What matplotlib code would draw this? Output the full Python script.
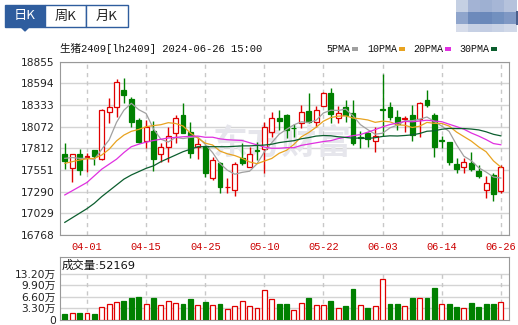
import numpy as np
import pandas as pd
import matplotlib
matplotlib.use("Agg")
import matplotlib.pyplot as plt
from matplotlib.patches import Rectangle, Polygon

plt.rcParams['font.family'] = ['DejaVu Sans', 'Noto Sans CJK SC']

# ---------------- data ----------------

dates = ["03-27", "03-28", "03-29",
         "04-01", "04-02", "04-03", "04-08", "04-09", "04-10", "04-11", "04-12",
         "04-15", "04-16", "04-17", "04-18", "04-19", "04-22", "04-23", "04-24",
         "04-25", "04-26", "04-29", "04-30",
         "05-06", "05-07", "05-08", "05-09", "05-10", "05-13", "05-14", "05-15",
         "05-16", "05-17", "05-20", "05-21", "05-22", "05-23", "05-24", "05-27",
         "05-28", "05-29", "05-30", "05-31",
         "06-03", "06-04", "06-05", "06-06", "06-07", "06-11", "06-12", "06-13",
         "06-14", "06-17", "06-18", "06-19", "06-20", "06-21", "06-24", "06-25",
         "06-26"]

open_ = [17738, 17569, 17738, 17710, 17790, 17678, 18243, 18311, 18512, 18400,
         18151, 17902, 18019, 17738, 17822, 17990, 18211, 18011, 17830, 17838,
         17457, 17630, 17341, 17309, 17690, 17590, 17790, 17798, 18011, 18171,
         18211, 18059, 18119, 18259, 18131, 18319, 18480, 18175, 18303, 18239,
         17946, 17990, 17902, 18281, 18303, 18183, 18168, 18211, 18159, 18391,
         18211, 17904, 17882, 17618, 17590, 17630, 17537, 17309, 17489, 17297]
high = [17870, 17745, 17802, 17760, 17795, 18280, 18412, 18644, 18652, 18432,
        18170, 18151, 18139, 17870, 18063, 18211, 18351, 18131, 17930, 17850,
        17710, 17642, 17457, 17650, 17878, 17830, 17890, 18131, 18251, 18271,
        18221, 18103, 18331, 18480, 18319, 18492, 18532, 18319, 18392, 18392,
        18019, 18011, 18063, 18704, 18371, 18271, 18203, 18331, 18365, 18512,
        18239, 17958, 17890, 17690, 17690, 17762, 17610, 17477, 17509, 17610]
low = [17557, 17409, 17489, 17530, 17610, 17670, 18119, 18191, 18351, 18071,
       17870, 17810, 17541, 17650, 17650, 17870, 17990, 17690, 17678, 17469,
       17429, 17277, 17269, 17241, 17610, 17590, 17670, 17509, 17950, 18031,
       17930, 17942, 18059, 18119, 18071, 18319, 18111, 18119, 18131, 17850,
       17818, 17830, 17770, 17962, 18151, 18031, 18003, 17902, 17950, 18311,
       17710, 17810, 17610, 17517, 17517, 17541, 17449, 17217, 17180, 17269]
close = [17662, 17738, 17549, 17722, 17718, 18271, 18303, 18604, 18452, 18131,
         17890, 18071, 17678, 17830, 17962, 18170, 17999, 17750, 17858, 17517,
         17670, 17341, 17349, 17618, 17630, 17738, 17782, 18071, 18171, 18139,
         18031, 18055, 18251, 18131, 18271, 18472, 18220, 18235, 18211, 17870,
         17940, 17918, 17962, 18275, 18191, 18103, 18175, 17970, 18359, 18331,
         17830, 17900, 17650, 17557, 17642, 17561, 17477, 17389, 17257, 17581]
volume = [16850, 18720, 19660, 18720, 16850, 35570, 46800, 52400, 53000, 61800,
          64600, 46800, 63700, 44000, 55200, 49600, 44900, 59000, 42100, 50550,
          44000, 44900, 30900, 39300, 53400, 39300, 32800, 84250, 60850, 46800,
          44900, 28100, 49600, 62700, 42100, 42100, 53400, 32800, 39300, 87100,
          42100, 32800, 39300, 117000, 46800, 44900, 39300, 63650, 63650, 63650,
          89870, 44900, 46800, 35570, 32800, 49600, 35570, 44900, 46800, 52169]

# moving-average values before a full window exists
ma5_head = [17690, 17700, 17690, 17690]
ma10_head = [17630, 17650, 17670, 17685, 17690, 17730, 17800, 17900, 17970]
ma20_head = [17250, 17300, 17350, 17400, 17480, 17560, 17620, 17680, 17760,
             17830, 17860, 17885, 17905, 17920, 17935, 17942, 17950, 17955,
             17958]
ma30_head = [16920, 16975, 17030, 17085, 17150, 17230, 17300, 17370, 17440,
             17490, 17530, 17570, 17600, 17650, 17690, 17730, 17770, 17800,
             17830, 17830, 17830, 17830, 17830, 17835, 17840, 17840, 17845,
             17850, 17860]

price_ticks = [16768, 17029, 17290, 17551, 17812, 18072, 18333, 18594, 18855]
date_ticks = ["04-01", "04-15", "04-25", "05-10", "05-22", "06-03", "06-14",
              "06-26"]
vol_ticks = [0, 33000, 66000, 99000, 132000]
vol_tick_labels = ["0", "3.30万", "6.60万", "9.90万", "13.20万"]

RED = '#e00000'
GREEN = '#008000'
MA_COLORS = ['#a0a0a0', '#e8a320', '#e030e0', '#0b5e2e']

# ---------------- helpers ----------------

W, H = 518, 325


def box(l, t, r, b):
    return [l / W, 1 - b / H, (r - l) / W, (b - t) / H]


def moving_avg(head, n):
    s = pd.Series(close, dtype=float).rolling(n).mean().values
    s[:len(head)] = head
    return s


x = np.arange(len(close))
o = np.array(open_, dtype=float)
c = np.array(close, dtype=float)
candle_up = c >= o
prev = np.concatenate([[c[0]], c[:-1]])
vol_up = np.where(np.arange(len(c)) == 0, candle_up, c >= prev)

fig = plt.figure(figsize=(W / 100, H / 100), dpi=100)

ax = fig.add_axes(box(60, 61.5, 509, 235))
axv = fig.add_axes(box(60, 257, 509, 320))

xlim = (-0.65, 60.1)
tick_pos = [dates.index(d) for d in date_ticks]

# ---------------- price panel ----------------

ax.set_xlim(*xlim)
ax.set_ylim(price_ticks[0], price_ticks[-1])
for p in price_ticks:
    ax.axhline(p, color='#d4d4d4', lw=1, zorder=0)
ax.vlines(tick_pos, price_ticks[0], price_ticks[-1], colors='#c8c8c8',
          lw=1, linestyles=(0, (3, 3)), zorder=0)

# faint site watermark
ax.text(29.5, 17870, "东方财富", ha='center', va='center', fontsize=25,
        fontweight='bold', color='#e6e6ec', family='Noto Sans CJK SC',
        zorder=1)

cols = [RED if u else GREEN for u in candle_up]
ax.vlines(x, low, high, colors=cols, lw=1, zorder=3)
body = np.maximum(np.abs(c - o), 5)
ax.bar(x, body, bottom=np.minimum(o, c), width=0.66,
       color=['white' if u else GREEN for u in candle_up],
       edgecolor=cols, lw=0.9, zorder=4)

for head, n, col in zip([ma5_head, ma10_head, ma20_head, ma30_head],
                        [5, 10, 20, 30], MA_COLORS):
    ax.plot(x, moving_avg(head, n), color=col, lw=0.9, zorder=5)

ax.set_yticks(price_ticks)
ax.set_yticklabels([str(p) for p in price_ticks])
ax.set_xticks(tick_pos)
ax.set_xticklabels(date_ticks)
ax.tick_params(axis='y', length=0, pad=4, labelsize=7.7, colors='#222222')
ax.tick_params(axis='x', length=0, pad=5, labelsize=7.4, colors='#cc0000')
for lbl in ax.get_xticklabels():
    lbl.set_family('Liberation Mono')
for s in ax.spines.values():
    s.set_color('#999999')

# ---------------- volume panel ----------------

axv.set_xlim(*xlim)
axv.set_ylim(0, 178900)
for v in vol_ticks[1:]:
    axv.axhline(v, color='#d4d4d4', lw=1, zorder=0)
axv.vlines(tick_pos, 0, vol_ticks[-1], colors='#c8c8c8', lw=1,
           linestyles=(0, (3, 3)), zorder=0)
vcols = [RED if u else GREEN for u in vol_up]
axv.bar(x, volume, width=0.66,
        color=['white' if u else GREEN for u in vol_up],
        edgecolor=vcols, lw=0.9, zorder=3)
axv.set_yticks(vol_ticks)
axv.set_yticklabels(vol_tick_labels)
axv.set_xticks([])
axv.tick_params(axis='y', length=0, pad=3, labelsize=7.7, colors='#222222')
for s in axv.spines.values():
    s.set_color('#999999')
axv.text(0.004, 0.87, "成交量:" + str(volume[-1]), transform=axv.transAxes,
         ha='left', va='center', fontsize=8.2, color='#111111',
         family=['DejaVu Sans', 'Noto Sans CJK SC'])

# ---------------- header ----------------


def frect(l, t, w, h, **kw):
    fig.add_artist(Rectangle((l / W, 1 - (t + h) / H), w / W, h / H,
                             transform=fig.transFigure, **kw))


tab_blue = '#2f5d9e'
frect(5, 5, 40, 22, facecolor=tab_blue, edgecolor=tab_blue, lw=1)
frect(45, 5, 41, 22, facecolor='white', edgecolor=tab_blue, lw=1)
frect(86, 5, 42, 22, facecolor='white', edgecolor=tab_blue, lw=1)
fig.add_artist(Polygon([[21 / W, 1 - 27 / H], [29 / W, 1 - 27 / H],
                        [25 / W, 1 - 31 / H]], closed=True,
                       transform=fig.transFigure, color=tab_blue))
for cx, lab, col in [(25, "日K", 'white'), (65.5, "周K", '#222222'),
                     (107, "月K", '#222222')]:
    fig.text(cx / W, 1 - 16 / H, lab, ha='center', va='center', fontsize=9.5,
             color=col, family=['Noto Sans CJK SC', 'DejaVu Sans'])

# blurred image block at top right
mosaic = [['#c5d0e3', '#a3b3d4', '#9eb0d2', '#a6b6d6', '#b5c2dc'],
          ['#8fa5cc', '#6d8abb', '#6a88ba', '#7290bf', '#7f98c4'],
          ['#d6dcea', '#c6d0e4', '#c3cde3', '#c8d2e5', '#d0d8e8']]
col_edges = [456, 468, 480, 492, 504, 517]
row_edges = [0, 12, 24, 32]
for r in range(3):
    for k in range(5):
        frect(col_edges[k], row_edges[r], col_edges[k + 1] - col_edges[k],
              row_edges[r + 1] - row_edges[r], facecolor=mosaic[r][k],
              edgecolor='none')
frect(516, 11, 2, 14, facecolor='#4a5f8c', edgecolor='none')

fig.text(60 / W, 1 - 49 / H, "生猪2409[lh2409] 2024-06-26 15:00",
         ha='left', va='center', fontsize=7.6, color='#111111',
         family=['Liberation Mono', 'Noto Sans CJK SC'])

legend_x = [326, 367, 413, 459]
for lx, name, col in zip(legend_x, ["5PMA", "10PMA", "20PMA", "30PMA"],
                         MA_COLORS):
    fig.text(lx / W, 1 - 49 / H, name, ha='left', va='center',
             fontsize=7.2, color='#111111', family='Liberation Mono')
    mx = lx + len(name) * 6.2 + 1
    frect(mx, 47.5, 6, 3, facecolor=col, edgecolor='none')

fig.savefig("out.png", dpi=100)
